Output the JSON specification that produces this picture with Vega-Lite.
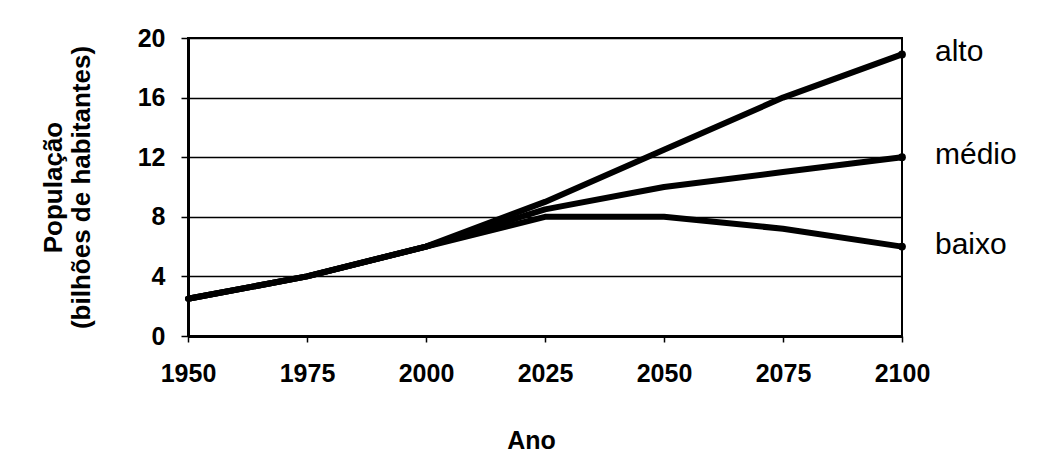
{
  "$schema": "https://vega.github.io/schema/vega-lite/v6.json",
  "autosize": {"type": "none"},
  "width": 714,
  "height": 298,
  "padding": {"left": 188, "top": 38, "right": 149, "bottom": 125},
  "background": "white",
  "config": {
    "font": "Liberation Sans",
    "view": {"stroke": "black", "strokeWidth": 2},
    "axis": {"labelColor": "black", "titleColor": "black", "domainColor": "black", "tickColor": "black"}
  },
  "data": {
    "values": [
      {"ano": 1950, "cenario": "alto", "pop": 2.5},
      {"ano": 1975, "cenario": "alto", "pop": 4.0},
      {"ano": 2000, "cenario": "alto", "pop": 6.0},
      {"ano": 2025, "cenario": "alto", "pop": 9.0},
      {"ano": 2050, "cenario": "alto", "pop": 12.5},
      {"ano": 2075, "cenario": "alto", "pop": 16.0},
      {"ano": 2100, "cenario": "alto", "pop": 18.9},
      {"ano": 1950, "cenario": "médio", "pop": 2.5},
      {"ano": 1975, "cenario": "médio", "pop": 4.0},
      {"ano": 2000, "cenario": "médio", "pop": 6.0},
      {"ano": 2025, "cenario": "médio", "pop": 8.5},
      {"ano": 2050, "cenario": "médio", "pop": 10.0},
      {"ano": 2075, "cenario": "médio", "pop": 11.0},
      {"ano": 2100, "cenario": "médio", "pop": 12.0},
      {"ano": 1950, "cenario": "baixo", "pop": 2.5},
      {"ano": 1975, "cenario": "baixo", "pop": 4.0},
      {"ano": 2000, "cenario": "baixo", "pop": 6.0},
      {"ano": 2025, "cenario": "baixo", "pop": 8.0},
      {"ano": 2050, "cenario": "baixo", "pop": 8.0},
      {"ano": 2075, "cenario": "baixo", "pop": 7.2},
      {"ano": 2100, "cenario": "baixo", "pop": 6.0}
    ]
  },
  "encoding": {
    "x": {
      "field": "ano", "type": "quantitative",
      "scale": {"domain": [1950, 2100], "nice": false, "zero": false},
      "axis": {
        "title": "Ano",
        "values": [1950, 1975, 2000, 2025, 2050, 2075, 2100],
        "format": "d",
        "grid": false,
        "domainWidth": 3,
        "tickSize": 6,
        "tickWidth": 1.5,
        "labelFont": "Liberation Sans",
        "labelFontSize": 25,
        "labelFontWeight": "bold",
        "labelPadding": 19,
        "labelFlush": false,
        "titleFont": "Liberation Sans",
        "titleFontSize": 25,
        "titleFontWeight": "bold",
        "titlePadding": 42,
        "titleX": 343
      }
    },
    "y": {
      "field": "pop", "type": "quantitative",
      "scale": {"domain": [0, 20], "nice": false},
      "axis": {
        "title": ["População", "(bilhões de habitantes)"],
        "values": [0, 4, 8, 12, 16, 20],
        "grid": true,
        "gridColor": "black",
        "gridWidth": 1.5,
        "gridOpacity": 1,
        "domainWidth": 3,
        "tickSize": 7,
        "tickWidth": 1.5,
        "labelFont": "Liberation Sans",
        "labelFontSize": 25,
        "labelFontWeight": "bold",
        "labelPadding": 16,
        "labelFlush": false,
        "titleFont": "Liberation Sans",
        "titleFontSize": 26,
        "titleFontWeight": "bold",
        "titleLineHeight": 28,
        "titlePadding": 43
      }
    }
  },
  "layer": [
    {
      "mark": {"type": "line", "color": "black", "strokeWidth": 6, "strokeJoin": "round", "strokeCap": "round"},
      "encoding": {"detail": {"field": "cenario"}}
    },
    {
      "transform": [{"filter": "datum.ano == 2100"}],
      "mark": {"type": "point", "filled": true, "color": "black", "opacity": 1, "size": 60},
      "encoding": {}
    },
    {
      "transform": [{"filter": "datum.ano == 2100"}],
      "mark": {"type": "text", "align": "left", "baseline": "middle", "dx": 33, "dy": -2, "font": "Liberation Sans", "fontSize": 30, "color": "black"},
      "encoding": {"text": {"field": "cenario"}}
    }
  ]
}
